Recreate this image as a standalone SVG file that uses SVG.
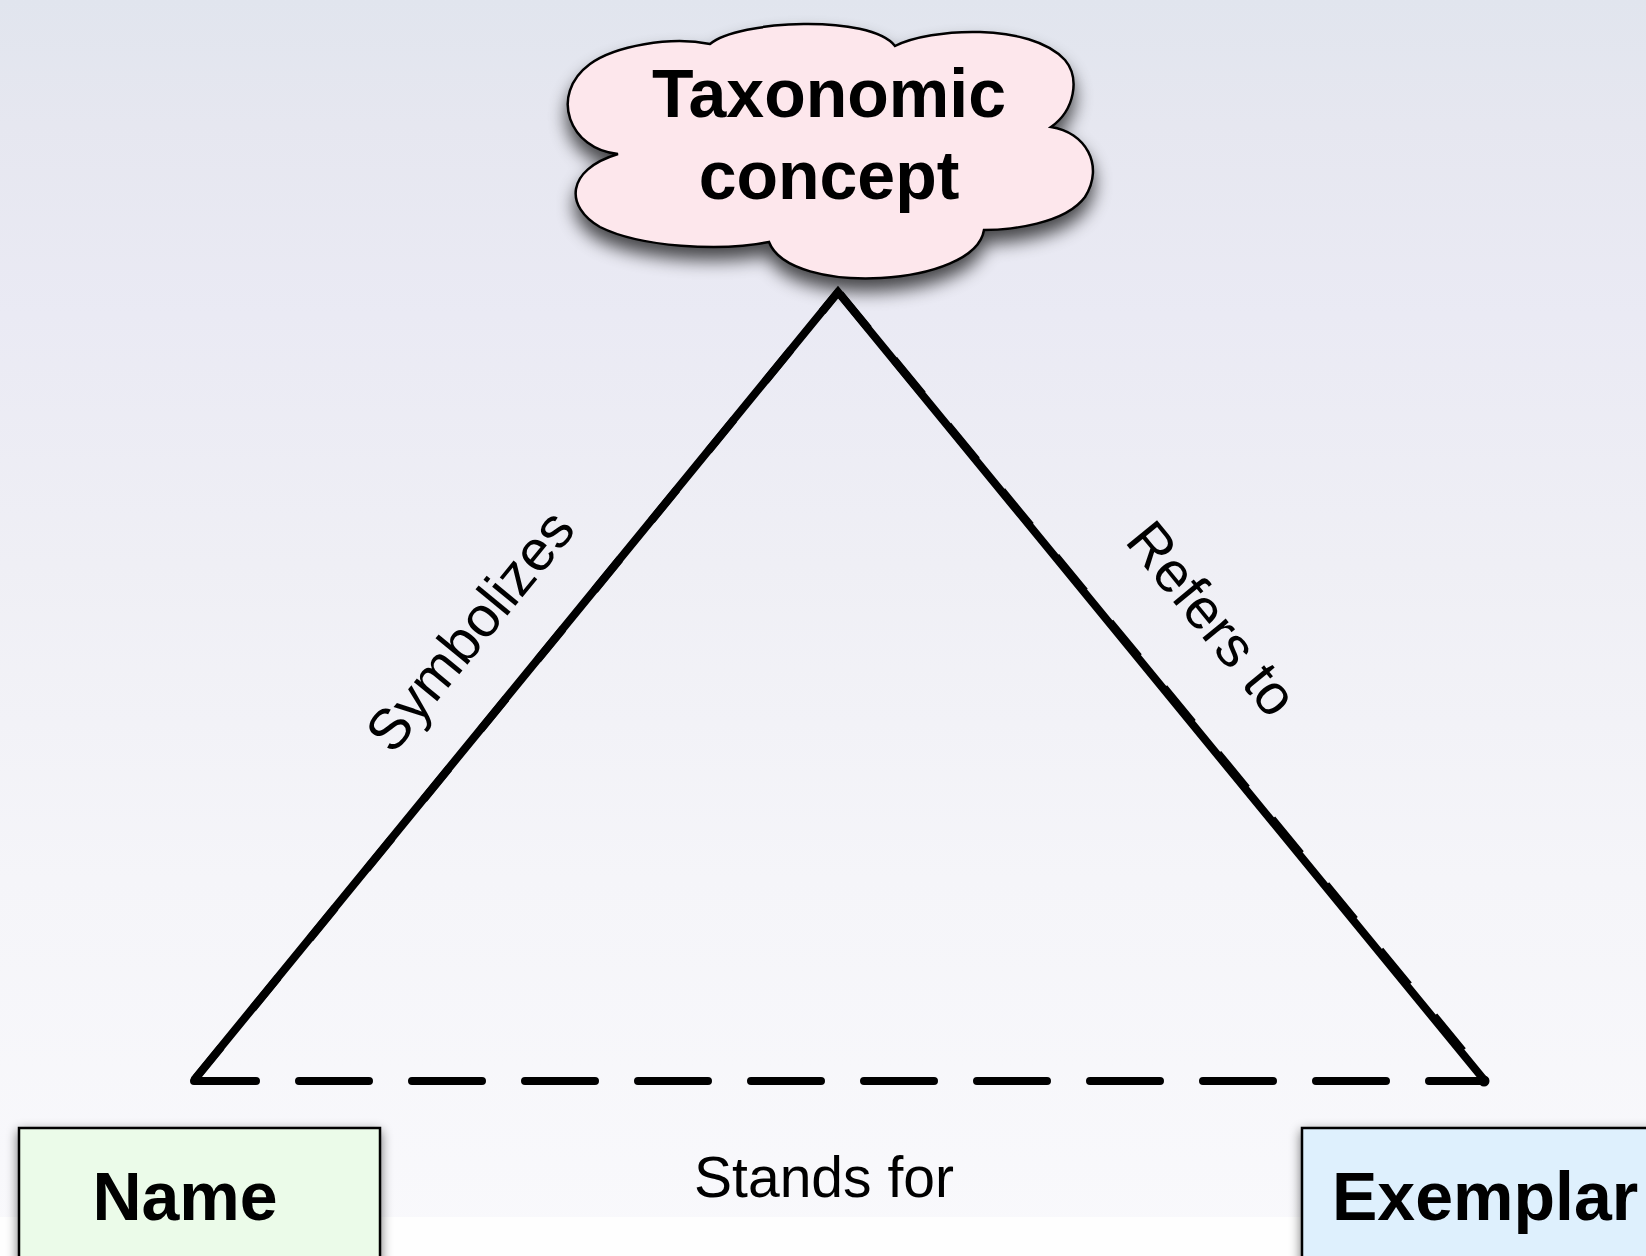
<svg xmlns="http://www.w3.org/2000/svg" width="1646" height="1256" viewBox="0 0 1646 1256">
  <defs>
    <linearGradient id="bg" x1="0" y1="0" x2="0" y2="1">
      <stop offset="0" stop-color="#e1e5ee"/>
      <stop offset="0.1" stop-color="#e6e7f0"/>
      <stop offset="0.25" stop-color="#eaeaf4"/>
      <stop offset="0.45" stop-color="#efeff5"/>
      <stop offset="0.7" stop-color="#f5f5f9"/>
      <stop offset="1" stop-color="#f9f9fc"/>
    </linearGradient>
    <filter id="shadow" x="-20%" y="-20%" width="140%" height="160%">
      <feGaussianBlur in="SourceAlpha" stdDeviation="9"/>
      <feOffset dx="0" dy="12" result="b"/>
      <feComponentTransfer><feFuncA type="linear" slope="0.7"/></feComponentTransfer>
      <feMerge><feMergeNode/><feMergeNode in="SourceGraphic"/></feMerge>
    </filter>
    <filter id="boxshadow" x="-20%" y="-20%" width="140%" height="160%">
      <feGaussianBlur in="SourceAlpha" stdDeviation="6"/>
      <feOffset dx="0" dy="4" result="b"/>
      <feComponentTransfer><feFuncA type="linear" slope="0.55"/></feComponentTransfer>
      <feMerge><feMergeNode/><feMergeNode in="SourceGraphic"/></feMerge>
    </filter>
    <style>
      .title { font-family: "Liberation Sans", Arial, sans-serif; font-weight: bold; font-size: 68px; fill: #000; }
      .label { font-family: "Liberation Sans", Arial, sans-serif; font-size: 57px; fill: #000; }
      .edge { fill: none; stroke: #000; stroke-width: 8; }
      .box { stroke: #000; stroke-width: 2.5; }
    </style>
  </defs>

  <!-- slide background -->
  <rect x="0" y="0" width="1646" height="1256" fill="url(#bg)"/>
  <rect x="0" y="1217" width="1646" height="39" fill="#fefefe"/>

  <!-- triangle connectors -->
  <g id="connectors">
    <path class="edge" d="M194,1080 L838,292 L1485,1081" stroke-linejoin="miter" stroke-miterlimit="10"/>
    <path class="edge" d="M196,1078 L839,291" stroke-dasharray="40 50" stroke-width="8.5" opacity="0.9"/>
    <path class="edge" d="M840,294 L1486,1079" stroke-dasharray="45 40" stroke-width="9"/>
    <line class="edge" x1="194" y1="1081" x2="1485" y2="1081" stroke-linecap="round" stroke-dasharray="70 43" stroke-dashoffset="8"/>
    <circle cx="1484" cy="1081" r="5.5" fill="#000"/>
    <text class="label" transform="translate(485,643) rotate(-50.7)" text-anchor="middle">Symbolizes</text>
    <text class="label" transform="translate(1197,631) rotate(50.7)" text-anchor="middle">Refers to</text>
    <text class="label" x="824" y="1197" text-anchor="middle">Stands for</text>
  </g>

  <!-- concept cloud -->
  <g id="taxonomic-concept">
    <path filter="url(#shadow)" fill="#fde7ec" stroke="#000" stroke-width="2.5"
      d="M618,154 C570,150 548,95 590,64 C615,46 670,36 710,44
         C738,20 870,14 895,46
         C930,28 1030,22 1065,60 C1080,78 1075,110 1051,127
         C1085,132 1105,165 1085,197 C1065,224 1010,230 984,230
         C975,287 790,297 769,242
         C720,252 640,247 600,227 C565,207 565,170 618,154 Z"/>
    <text class="title" x="829" y="117" text-anchor="middle">Taxonomic</text>
    <text class="title" x="829" y="199" text-anchor="middle">concept</text>
  </g>

  <!-- name box -->
  <g id="name">
    <rect class="box" filter="url(#boxshadow)" x="19" y="1128" width="361" height="160" fill="#ebfbe9"/>
    <text class="title" x="185" y="1220" text-anchor="middle">Name</text>
  </g>

  <!-- exemplar box -->
  <g id="exemplar">
    <rect class="box" filter="url(#boxshadow)" x="1302" y="1128" width="380" height="160" fill="#def0fd"/>
    <text class="title" x="1332" y="1220">Exemplar</text>
  </g>
</svg>
